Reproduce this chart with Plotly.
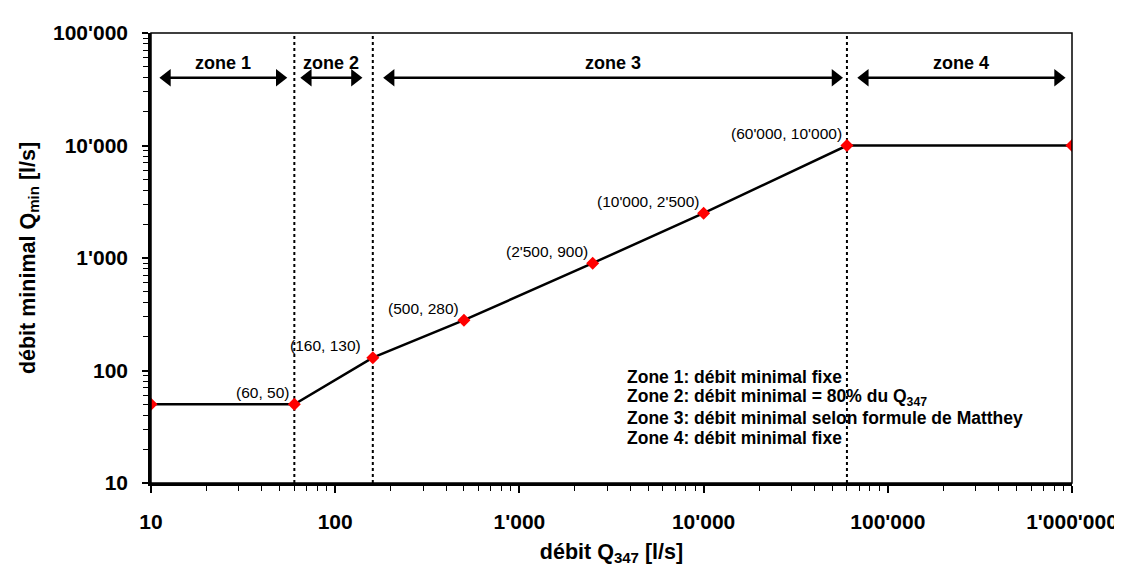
import math
import plotly.graph_objects as go

# data
q347 = [10, 60, 160, 500, 2500, 10000, 60000, 1000000]
qmin = [50, 50, 130, 280, 900, 2500, 10000, 10000]
point_labels = ["", "(60, 50)", "(160, 130)", "(500, 280)", "(2'500, 900)",
                "(10'000, 2'500)", "(60'000, 10'000)", ""]
zone_bounds = [60, 160, 60000]
zone_names = ["zone 1", "zone 2", "zone 3", "zone 4"]
zone_arrow_from = [12.2, 71, 200, 75000]
zone_arrow_to = [50, 128, 52000, 840000]
zone_arrow_level = 40000
zone_text_level = 54000
legend_lines = [
    "Zone 1: débit minimal fixe",
    "Zone 2: débit minimal = 80% du Q<sub>347</sub>",
    "Zone 3: débit minimal selon formule de Matthey",
    "Zone 4: débit minimal fixe",
]
tick_vals_x = [10, 100, 1000, 10000, 100000, 1000000]
tick_text_x = ["10", "100", "1'000", "10'000", "100'000", "1'000'000"]
tick_vals_y = [10, 100, 1000, 10000, 100000]
tick_text_y = ["10", "100", "1'000", "10'000", "100'000"]

FONT = "Arial, Liberation Sans, sans-serif"

minor_x = [m * 10 ** k for k in range(1, 6) for m in range(2, 10)]
minor_y = [m * 10 ** k for k in range(1, 5) for m in range(2, 10)]

fig = go.Figure()

for b in zone_bounds:
    fig.add_trace(go.Scatter(x=[b, b], y=[10, 100000], mode="lines",
                             line=dict(color="black", width=2, dash="dot"),
                             hoverinfo="skip", showlegend=False))

# zone arrows (double headed)
for a, b in zip(zone_arrow_from, zone_arrow_to):
    fig.add_trace(go.Scatter(x=[a, b], y=[zone_arrow_level, zone_arrow_level],
                             mode="lines+markers",
                             line=dict(color="black", width=2.5),
                             marker=dict(symbol=["triangle-left", "triangle-right"],
                                         size=15, color="black", line=dict(width=0)),
                             hoverinfo="skip", showlegend=False))

fig.add_trace(go.Scatter(x=q347, y=qmin, mode="lines+markers",
                         line=dict(color="black", width=2.5),
                         marker=dict(symbol="diamond", color="red", size=10),
                         showlegend=False))

annotations = []
for xv, yv, t in zip(q347, qmin, point_labels):
    if not t:
        continue
    annotations.append(dict(x=math.log10(xv), y=math.log10(yv), xref="x", yref="y",
                            text=t, showarrow=False, xanchor="right", yanchor="middle",
                            xshift=-10 if xv == 160 else -3, yshift=12,
                            font=dict(family=FONT, size=15.5, color="black")))

for name, a, b in zip(zone_names, zone_arrow_from, zone_arrow_to):
    annotations.append(dict(x=(math.log10(a) + math.log10(b)) / 2,
                            y=math.log10(zone_text_level), xref="x", yref="y",
                            text="<b>%s</b>" % name, showarrow=False,
                            font=dict(family=FONT, size=18, color="black")))

legend_y = [374, 394, 415, 435]
for yy, line in zip(legend_y, legend_lines):
    annotations.append(dict(x=(620 - 143) / 925, y=(481 - yy) / 456,
                            xref="paper", yref="paper", xanchor="left", yanchor="middle",
                            text="<b>%s</b>" % line, showarrow=False, borderpad=0,
                            font=dict(family=FONT, size=17.5, color="black")))

fig.update_layout(
    width=1122, height=564,
    margin=dict(l=143, r=54, t=25, b=83),
    paper_bgcolor="white", plot_bgcolor="white",
    annotations=annotations,
    shapes=[dict(type="rect", xref="paper", yref="paper", x0=0, y0=0, x1=1, y1=1,
                 line=dict(color="black", width=1.5))],
)

fig.update_xaxes(
    type="log", range=[1, 6], showgrid=False, zeroline=False,
    showline=True, linecolor="black", linewidth=2.5,
    ticks="outside", ticklen=7, tickwidth=1.5, tickcolor="black",
    tickvals=tick_vals_x, ticktext=tick_text_x, ticklabelstandoff=11,
    tickfont=dict(family=FONT, size=21, color="black", weight="bold"),
    minor=dict(tickvals=minor_x, ticks="outside", ticklen=5, tickwidth=1.2, tickcolor="black", showgrid=False),
    title=dict(text="débit Q<sub>347</sub> [l/s]", standoff=12,
               font=dict(family=FONT, size=21.5, color="black", weight="bold")),
)
fig.update_yaxes(
    type="log", range=[1, 5], showgrid=False, zeroline=False,
    showline=True, linecolor="black", linewidth=2.5,
    ticks="outside", ticklen=6, tickwidth=1.5, tickcolor="black",
    tickvals=tick_vals_y, ticktext=tick_text_y, ticklabelstandoff=10,
    tickfont=dict(family=FONT, size=21, color="black", weight="bold"),
    minor=dict(tickvals=minor_y, ticks="outside", ticklen=5, tickwidth=1.2, tickcolor="black", showgrid=False),
    title=dict(text="débit minimal Q<sub>min</sub> [l/s]", standoff=12,
               font=dict(family=FONT, size=21.5, color="black", weight="bold")),
)

fig.write_html("out.html")
